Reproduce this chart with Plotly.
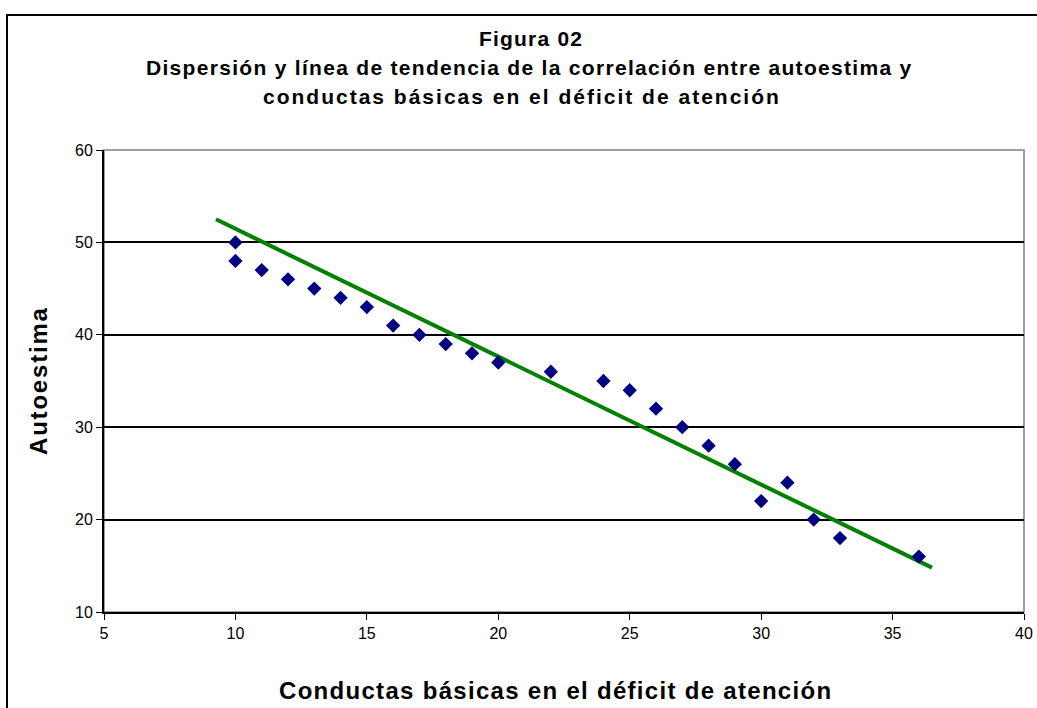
import plotly.graph_objects as go

# Data
conductas = [10, 10, 11, 12, 13, 14, 15, 16, 17, 18, 19, 20, 22, 24, 25, 26, 27, 28, 29, 30, 31, 32, 33, 36]
autoestima = [50, 48, 47, 46, 45, 44, 43, 41, 40, 39, 38, 37, 36, 35, 34, 32, 30, 28, 26, 22, 24, 20, 18, 16]
trend_x = [9.26, 36.5]
trend_y = [52.5, 14.8]

W, H = 1037, 708
L, R, T, B = 104, 13, 150, 96
pw, ph = W - L - R, H - T - B

def px_x(p):
    return (p - L) / pw

def px_y(p):
    return (H - B - p) / ph

font = "Liberation Sans, Arial, sans-serif"

def spaced(text, sp):
    return f'<span style="letter-spacing:{sp}px">{text}</span>'

fig = go.Figure()
fig.add_trace(go.Scatter(
    x=trend_x, y=trend_y, mode="lines",
    line=dict(color="#008000", width=4), showlegend=False, hoverinfo="skip"))
fig.add_trace(go.Scatter(
    x=conductas, y=autoestima, mode="markers",
    marker=dict(symbol="diamond", color="#000080", size=11, line=dict(width=0)),
    showlegend=False))

fig.update_layout(
    width=W, height=H,
    margin=dict(l=L, r=R, t=T, b=B, autoexpand=False),
    paper_bgcolor="white", plot_bgcolor="white",
    font=dict(family=font, color="black", size=16),
    xaxis=dict(range=[5, 40], dtick=5, tick0=5, showgrid=False, zeroline=False,
               showline=True, linecolor="black", linewidth=2, automargin=False,
               ticks="outside", ticklen=6, tickcolor="black", tickwidth=1,
               tickfont=dict(size=16, family=font)),
    yaxis=dict(range=[10, 60], dtick=10, tick0=10, showgrid=True, gridcolor="black",
               gridwidth=1.5, zeroline=False, automargin=False,
               showline=True, linecolor="black", linewidth=2,
               ticks="outside", ticklen=6, tickcolor="black", tickwidth=1,
               tickfont=dict(size=16, family=font)),
    shapes=[
        dict(type="rect", xref="paper", yref="paper",
             x0=0, x1=1, y0=0, y1=1, line=dict(color="#808080", width=1.5), layer="below"),
        dict(type="rect", xref="paper", yref="paper",
             x0=px_x(7), x1=px_x(1050), y0=px_y(15), y1=px_y(730),
             line=dict(color="black", width=2), layer="below"),
    ],
    annotations=[
        dict(text="<b>" + spaced("Figura 02", 1.2) + "</b>", xref="paper", yref="paper",
             x=px_x(531), y=px_y(38), showarrow=False, font=dict(size=21, family=font),
             xanchor="center", yanchor="middle"),
        dict(text="<b>" + spaced("Dispersión y línea de tendencia de la correlación entre autoestima y", 1.3) + "</b>",
             xref="paper", yref="paper", x=px_x(529), y=px_y(67), showarrow=False,
             font=dict(size=21, family=font), xanchor="center", yanchor="middle"),
        dict(text="<b>" + spaced("conductas básicas en el déficit de atención", 2.0) + "</b>",
             xref="paper", yref="paper", x=px_x(522), y=px_y(96), showarrow=False,
             font=dict(size=21, family=font), xanchor="center", yanchor="middle"),
        dict(text="<b>" + spaced("Conductas básicas en el déficit de atención", 1.3) + "</b>",
             xref="paper", yref="paper", x=px_x(555), y=px_y(690), showarrow=False,
             font=dict(size=24, family=font), xanchor="center", yanchor="middle"),
        dict(text="<b>" + spaced("Autoestima", 1.8) + "</b>",
             xref="paper", yref="paper", x=px_x(38), y=px_y(381), showarrow=False,
             font=dict(size=24, family=font), xanchor="center", yanchor="middle",
             textangle=-90),
    ],
)

fig.write_html("out.html", config={"displayModeBar": False},
               post_script="document.body.style.margin='0';")
